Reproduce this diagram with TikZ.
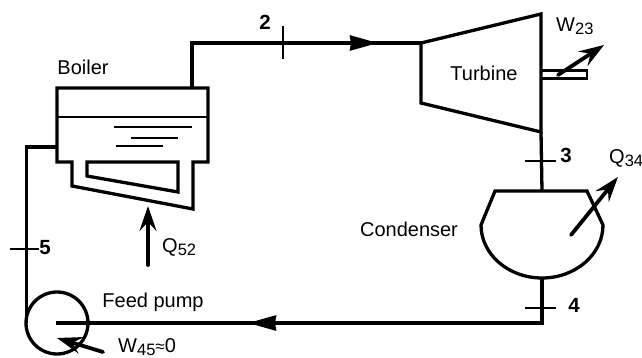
\documentclass[tikz,border=0pt]{standalone}
\usepackage{fontspec}
\setmainfont{Liberation Sans}
\usetikzlibrary{arrows.meta}
\newcommand{\lowidx}[1]{\raisebox{-3.5pt}{\fontsize{16.5}{16}\selectfont #1}}
\tikzset{
  pipe/.style={line width=3.3pt, line join=miter},
  wall/.style={line width=3.3pt, line join=miter},
  thinline/.style={line width=1.5pt},
  flowhead/.style={-{Stealth[length=28pt, width=15pt, inset=1pt]}, line width=3.3pt},
  energyarrow/.style={-{Stealth[length=25pt, width=17pt, inset=9pt]}, line width=3.8pt, line cap=round},
  lbl/.style={font=\fontsize{20}{22}\selectfont, inner sep=0pt},
  numlbl/.style={font=\fontsize{20.5}{22}\selectfont\bfseries, inner sep=0pt}
}
\begin{document}
\begin{tikzpicture}[x=1pt, y=-1pt]
  \useasboundingbox (0,0) rectangle (642,358);

  % Boiler
  \draw[wall] (72,162) -- (57,162) -- (57,88) -- (208,88) -- (208,162) -- (193,162) -- (193,209) -- (72,186) -- cycle;
  \draw[wall] (87,162) -- (87,176) -- (178,192) -- (178,162) -- cycle;
  \draw[thinline] (57,117) -- (208,117);
  \draw[thinline] (114,127) -- (192,127);
  \draw[thinline] (131,138) -- (178,138);
  \draw[thinline] (116,146) -- (163,146);
  \coordinate (boilerout) at (192,88);
  \coordinate (boilerin) at (57,147);
  \node[lbl] (boiler) at (83,67) {Boiler};

  % Turbine
  \draw[wall] (421,43) -- (541,14) -- (541,132) -- (421,103) -- cycle;
  \coordinate (turbinein) at (421,43);
  \coordinate (turbineout) at (541,132);
  \node[lbl] (turbine) at (484,73) {Turbine};
  \draw[wall, line width=2.4pt] (541,70.5) rectangle (587,78.5);
  \coordinate (shaft) at (558,75);
  \coordinate (wtip) at (604,45);
  \draw[energyarrow] (shaft) -- (wtip);
  \node[lbl, anchor=west] (wlabel) at (556,26) {W\lowidx{23}};

  % Condenser
  \draw[wall] (481,225) -- (495,191) -- (587,191) -- (603,225) arc[start angle=0, end angle=180, x radius=61, y radius=53] -- cycle;
  \coordinate (condin) at (542,191);
  \coordinate (condout) at (542,278);
  \node[lbl] (condenser) at (409,229) {Condenser};
  \coordinate (qstart) at (571,235);
  \coordinate (qtip) at (618,177);
  \draw[energyarrow] (qstart) -- (qtip);
  \node[lbl, anchor=west] (qout) at (609,158) {Q\lowidx{34}};

  % Feed pump
  \node[draw, circle, line width=3.3pt, minimum size=62pt, inner sep=0pt] (pump) at (57,323) {};
  \coordinate (pumpin) at (56,323);
  \coordinate (pumpout) at (26.5,323);
  \node[lbl] (pumplabel) at (153,302) {Feed pump};
  \coordinate (wpstart) at (103,352);
  \coordinate (wptip) at (57,338);
  \draw[energyarrow] (wpstart) -- (wptip);
  \node[lbl, anchor=west] (wpump) at (118,347) {W\lowidx{45}{\fontsize{17}{17}\selectfont≈}0};

  % Pipes
  \draw[pipe] (boilerout) -- (192,43) -- (turbinein);
  \draw[pipe] (turbineout) -- (condin);
  \draw[pipe] (condout) -- (542,323) -- (pumpin);
  \draw[pipe] (pumpout) -- (26.5,147) -- (boilerin);

  % Flow arrows
  \coordinate (arrowa) at (340,43);
  \coordinate (arrowb) at (378,43);
  \draw[flowhead] (arrowa) -- (arrowb);
  \coordinate (arrowc) at (290,323);
  \coordinate (arrowd) at (248,323);
  \draw[flowhead] (arrowc) -- (arrowd);

  % Heat input
  \coordinate (qbstart) at (148,265);
  \coordinate (qbtip) at (148,206);
  \draw[energyarrow] (qbstart) -- (qbtip);
  \node[lbl, anchor=west] (qin) at (162,247) {Q\lowidx{52}};

  % State points
  \draw[thinline] (283,26) -- (283,59);
  \node[numlbl] (two) at (265,22) {2};
  \draw[thinline] (525,161) -- (556,161);
  \node[numlbl] (three) at (566,155) {3};
  \draw[thinline] (525,308) -- (556,308);
  \node[numlbl] (four) at (574,305) {4};
  \draw[thinline] (10,249) -- (39,249);
  \node[numlbl] (five) at (45,248) {5};
\end{tikzpicture}
\end{document}
